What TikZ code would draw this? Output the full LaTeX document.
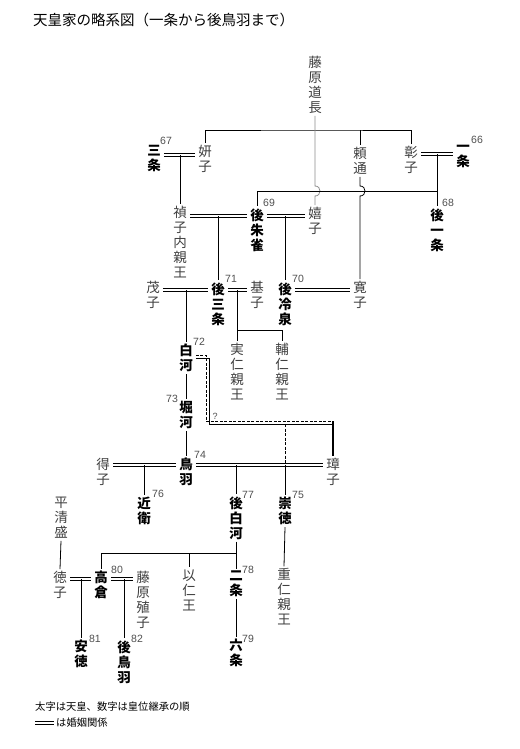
\documentclass[tikz,border=0pt]{standalone}
\usepackage{fontspec}
\newfontfamily\cjk{Noto Sans CJK JP}
\newfontfamily\numf{Liberation Sans}
\usetikzlibrary{calc}
\definecolor{txtgrey}{HTML}{404040}
\definecolor{numgrey}{HTML}{505050}
\definecolor{linegrey}{HTML}{8C8C8C}
\begin{document}
\begin{tikzpicture}[x=1pt,y=-1pt,
 nm/.style={font=\cjk\fontsize{13.5}{15}\selectfont, text=txtgrey, align=center, inner xsep=3pt, inner ysep=2pt},
 emp/.style={nm, font=\cjk\bfseries\fontsize{13.5}{15}\selectfont, text=black},
 num/.style={font=\numf\fontsize{10.5}{12}\selectfont, text=numgrey, inner sep=0pt},
 ln/.style={line width=0.8pt},
 marr/.style={double, double distance=1.8pt, line width=0.7pt},
 dsh/.style={line width=0.8pt, dash pattern=on 3pt off 1.5pt},
]
\useasboundingbox (0,0) rectangle (519,749);
\fill[white] (0,0) rectangle (519,749);

\node[anchor=west, font=\cjk\fontsize{14.5}{16}\selectfont, inner sep=0pt] (title) at (33,20) {天皇家の略系図（一条から後鳥羽まで）};

% names
\node[nm] (michinaga) at (315,85) {藤\\原\\道\\長};
\node[nm] (kenshi) at (205,159) {妍\\子};
\node[emp] (sanjo) at (154,159) {三\\条};
\node[nm] (yorimichi) at (360,161) {頼\\通};
\node[nm] (akiko) at (411,160) {彰\\子};
\node[emp, inner xsep=0.5pt] (ichijo) at (463,156) {一\\条};
\node[emp] (goichijo) at (437,230) {後\\一\\条};
\node[emp] (gosuzaku) at (257,230) {後\\朱\\雀};
\node[nm] (teishi) at (180,242) {禎\\子\\内\\親\\王};
\node[nm] (kishi) at (315,221) {嬉\\子};
\node[nm] (shigeko) at (153,295) {茂\\子};
\node[emp] (gosanjo) at (218,304) {後\\三\\条};
\node[nm] (motoko) at (257,295) {基\\子};
\node[emp] (goreizei) at (285,304) {後\\冷\\泉};
\node[nm] (hiroko) at (360,295) {寛\\子};
\node[nm] (sanehito) at (237,372) {実\\仁\\親\\王};
\node[nm] (sukehito) at (282,372) {輔\\仁\\親\\王};
\node[emp] (shirakawa) at (186,358) {白\\河};
\node[emp] (horikawa) at (186,415) {堀\\河};
\node[emp] (toba) at (186,472) {鳥\\羽};
\node[nm] (nariko) at (103,472) {得\\子};
\node[nm] (tamako) at (333,472) {璋\\子};
\node[emp] (konoe) at (144,511) {近\\衛};
\node[emp] (goshirakawa) at (236,518) {後\\白\\河};
\node[emp] (sutoku) at (285,511) {崇\\徳};
\node[nm] (kiyomori) at (61,518) {平\\清\\盛};
\node[nm] (shigehito) at (284,597) {重\\仁\\親\\王};
\node[nm] (tokuko) at (60,585) {徳\\子};
\node[emp] (takakura) at (101,585) {高\\倉};
\node[nm] (shokushi) at (143,600) {藤\\原\\殖\\子};
\node[nm] (mochihito) at (189,590) {以\\仁\\王};
\node[emp] (nijo) at (236,584) {二\\条};
\node[emp] (rokujo) at (236,653) {六\\条};
\node[emp] (antoku) at (81,654) {安\\徳};
\node[emp] (gotoba) at (124,662) {後\\鳥\\羽};

% numbers
\node[num] (n66) at (477,140) {66};
\node[num] (n67) at (166,141) {67};
\node[num] (n68) at (448,203) {68};
\node[num] (n69) at (269,203) {69};
\node[num] (n70) at (298,279) {70};
\node[num] (n71) at (231,279) {71};
\node[num] (n72) at (199,342) {72};
\node[num] (n73) at (172,399) {73};
\node[num] (n74) at (200,455) {74};
\node[num] (n75) at (298,495) {75};
\node[num] (n76) at (158,494) {76};
\node[num] (n77) at (248,495) {77};
\node[num] (n78) at (248,570) {78};
\node[num] (n79) at (248,639) {79};
\node[num] (n80) at (117,570) {80};
\node[num] (n81) at (95,639) {81};
\node[num] (n82) at (137,639) {82};
\node[num, font=\numf\fontsize{9}{10}\selectfont] (q) at (215,416) {?};

% coordinates
\coordinate (fam) at (315,130);
\coordinate (cr) at (0,191);
\coordinate (m66) at (437,154);
\coordinate (m67) at (180,155);
\coordinate (m69a) at (218,216);
\coordinate (m69b) at (285,216);
\coordinate (m71a) at (186,290);
\coordinate (m71b) at (237,290);
\coordinate (m70) at (324,290);
\coordinate (sj) at (237,330);
\coordinate (m74a) at (144,465);
\coordinate (m74b) at (236,465);
\coordinate (dj) at (285,424);
\coordinate (dc) at (209,358);
\coordinate (gj) at (236,553);
\coordinate (m80a) at (81,579);
\coordinate (m80b) at (124,579);

% Michinaga family
\draw[ln] (kenshi.north) |- (fam) -| (akiko.north);
\draw[ln] (yorimichi.north) -- (yorimichi.north |- fam);
\draw[ln,linegrey] (michinaga.south) -- ($(michinaga.south |- cr)+(0,-5)$)
  .. controls +(6.7,0) and +(6.7,0) .. ($(michinaga.south |- cr)+(0,5)$) -- (kishi.north);
\draw[ln] (yorimichi.south) -- ($(yorimichi.south |- cr)+(0,-5)$)
  .. controls +(6.7,0) and +(6.7,0) .. ($(yorimichi.south |- cr)+(0,5)$) -- (hiroko.north);

% Ichijo
\draw[marr] (akiko.east |- m66) -- ([xshift=-2.5pt]ichijo.west |- m66);
\draw[ln] (m66) -- (goichijo.north);
\draw[ln] (goichijo.north |- cr) -| (gosuzaku.north);

% Sanjo
\draw[marr] (sanjo.east |- m67) -- (kenshi.west |- m67);
\draw[ln] (m67) -- (teishi.north);

% Gosuzaku
\draw[marr] (teishi.east |- m69a) -- (gosuzaku.west |- m69a);
\draw[ln] (m69a) -- (gosanjo.north);
\draw[marr] (gosuzaku.east |- m69b) -- (kishi.west |- m69b);
\draw[ln] (m69b) -- (goreizei.north);

% Gosanjo
\draw[marr] (shigeko.east |- m71a) -- (gosanjo.west |- m71a);
\draw[ln] (m71a) -- (shirakawa.north);
\draw[marr] (gosanjo.east |- m71b) -- (motoko.west |- m71b);
\draw[ln] (m71b) -- (sanehito.north);
\draw[ln] (sj) -| (sukehito.north);
\draw[marr] (goreizei.east |- m70) -- (hiroko.west |- m70);

% Shirakawa line
\draw[ln] (shirakawa.south) -- (horikawa.north);
\draw[ln] (horikawa.south) -- (toba.north);
\draw[ln] (shirakawa.east |- dc) -- (dc) -- (dc |- dj) -- (tamako.north |- dj);
\draw[dsh] ($(shirakawa.east |- dc)+(0,-2.2)$) -- ($(dc)+(-2.2,-2.2)$) -- ($(dc |- dj)+(-2.2,-2.2)$) -- ($(tamako.north |- dj)+(0,-2.2)$);
\draw[line width=1.7pt] ($(tamako.north |- dj)+(0,-2.8)$) -- (tamako.north);

% Toba
\draw[marr] (nariko.east |- m74a) -- (toba.west |- m74a);
\draw[ln] (m74a) -- (konoe.north);
\draw[marr] (toba.east |- m74b) -- (tamako.west |- m74b);
\draw[ln] (m74b) -- (goshirakawa.north);
\draw[ln] (sutoku.north |- m74b) -- (sutoku.north);
\draw[dsh] (dj) -- (sutoku.north |- m74b);

% Goshirakawa
\draw[ln] (goshirakawa.south) -- (nijo.north);
\draw[ln] (nijo.north |- gj) -| (takakura.north);
\draw[ln] (mochihito.north |- gj) -- (mochihito.north);
\draw[ln] (sutoku.south) -- (shigehito.north);
\draw[ln] (kiyomori.south) -- (tokuko.north);
\draw[marr] (tokuko.east |- m80a) -- (takakura.west |- m80a);
\draw[ln] (m80a) -- (antoku.north);
\draw[marr] (takakura.east |- m80b) -- (shokushi.west |- m80b);
\draw[ln] (m80b) -- (gotoba.north);
\draw[ln] (nijo.south) -- (rokujo.north);

% legend
\node[anchor=west, font=\cjk\fontsize{10.3}{12}\selectfont, inner sep=0pt] (leg1) at (35,707) {太字は天皇、数字は皇位継承の順};
\coordinate (lg) at (35,723);
\node[anchor=west, font=\cjk\fontsize{10.3}{12}\selectfont, inner sep=0pt] (leg2) at (56,723) {は婚姻関係};
\draw[marr] (lg) -- ([xshift=-2pt]leg2.west);
\end{tikzpicture}
\end{document}
